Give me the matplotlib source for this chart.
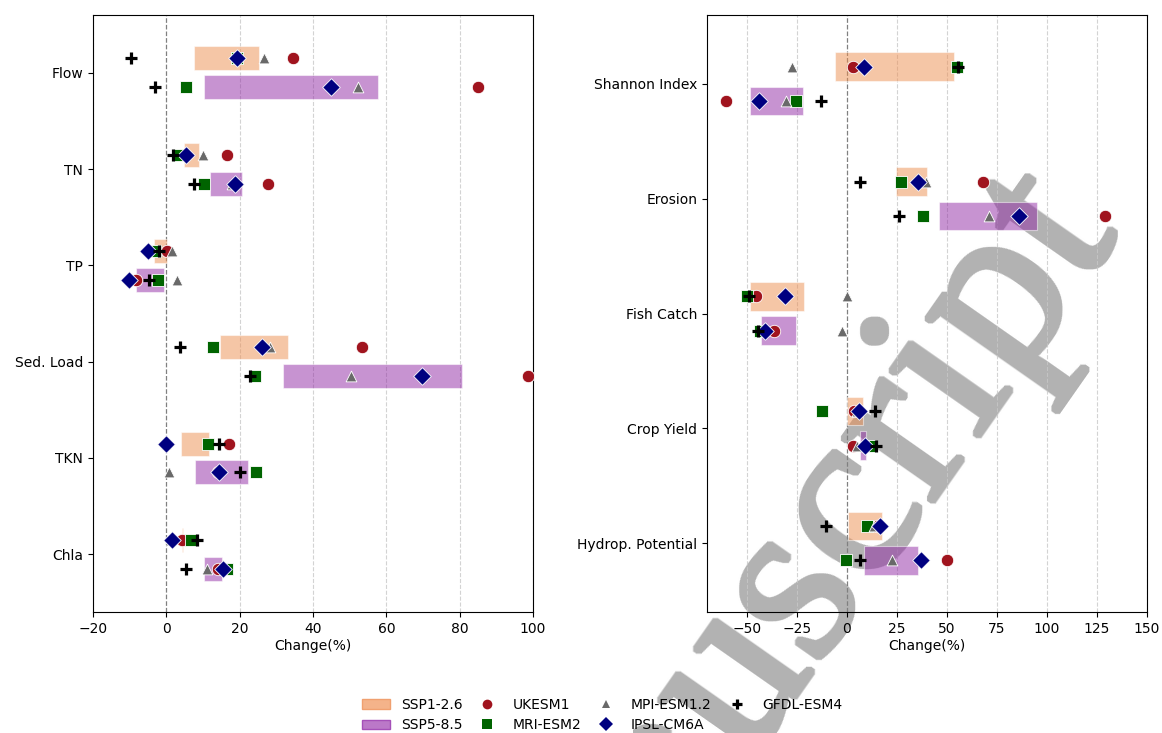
import numpy as np
import matplotlib
matplotlib.use('Agg')
import matplotlib.pyplot as plt
from matplotlib.patches import Patch
from matplotlib.lines import Line2D

models = ['UKESM1', 'MRI-ESM2', 'MPI-ESM1.2', 'IPSL-CM6A', 'GFDL-ESM4']

# left panel - water quantity / quality (% change)
wq_vars = ['Flow', 'TN', 'TP', 'Sed. Load', 'TKN', 'Chla']
wq_126_lo = [7.5, 4.9, -3.3, 14.6, 3.9, 4.2]
wq_126_hi = [25.3, 9.0, 0.3, 33.3, 11.7, 4.6]
wq_585_lo = [10.4, 11.9, -8.3, 31.8, 7.7, 10.4]
wq_585_hi = [57.7, 20.7, -0.6, 80.7, 22.4, 15.3]
wq_126_ukesm = [34.5, 16.5, 0.3, 53.5, 17.2, 4.3]
wq_126_mri = [19.2, 3.5, -3.1, 12.6, 11.3, 6.7]
wq_126_mpi = [26.6, 10.1, 1.6, 28.3, -0.2, 1.0]
wq_126_ipsl = [19.2, 5.5, -5.1, 26.2, -0.2, 1.5]
wq_126_gfdl = [-9.5, 1.7, -1.9, 3.6, 14.5, 8.5]
wq_585_ukesm = [85.1, 27.8, -8.3, 98.5, 14.0, 14.0]
wq_585_mri = [5.5, 10.4, -2.2, 24.2, 24.5, 16.6]
wq_585_mpi = [52.3, 17.8, 2.9, 50.3, 0.6, 11.2]
wq_585_ipsl = [44.8, 18.6, -10.2, 69.8, 14.4, 15.5]
wq_585_gfdl = [-3.1, 7.5, -4.7, 22.8, 20.1, 5.3]

# right panel - ecosystem services (% change)
es_vars = ['Shannon Index', 'Erosion', 'Fish Catch', 'Crop Yield', 'Hydrop. Potential']
es_126_lo = [-5.8, 24.5, -48.5, 0.2, 0.3]
es_126_hi = [53.5, 40.0, -21.5, 8.0, 17.5]
es_585_lo = [-48.3, 46.0, -43.2, 6.5, 8.3]
es_585_hi = [-22.0, 95.2, -25.3, 9.3, 35.3]
es_126_ukesm = [3.0, 67.8, -45.5, 3.5, 14.8]
es_126_mri = [54.9, 26.8, -50.2, -12.3, 10.0]
es_126_mpi = [-27.5, 39.3, 0.2, 5.0, 13.5]
es_126_ipsl = [8.3, 35.5, -31.2, 6.0, 16.7]
es_126_gfdl = [55.7, 6.3, -48.8, 13.8, -10.3]
es_585_ukesm = [-60.7, 129.0, -36.5, 2.8, 50.0]
es_585_mri = [-25.3, 38.2, -43.5, 11.2, -0.7]
es_585_mpi = [-30.7, 71.0, -2.5, 4.8, 22.5]
es_585_ipsl = [-44.2, 85.8, -40.8, 9.0, 36.8]
es_585_gfdl = [-12.8, 26.2, -44.7, 14.3, 6.5]

c126 = '#ed8e4f'
c585 = '#9129a5'
mstyle = {
    'UKESM1': dict(marker='o', color='#a0141e', s=80),
    'MRI-ESM2': dict(marker='s', color='darkgreen', s=70),
    'MPI-ESM1.2': dict(marker='^', color='dimgray', s=60),
    'IPSL-CM6A': dict(marker='D', color='navy', s=80),
    'GFDL-ESM4': dict(marker='+', color='black', s=70),
}


def panel(ax, cats, lo1, hi1, lo5, hi5, pts1, pts5, xlim, xticks):
    y = np.arange(len(cats))
    lo1, hi1, lo5, hi5 = map(np.array, (lo1, hi1, lo5, hi5))
    ax.barh(y - 0.15, hi1 - lo1, left=lo1, height=0.25, color=c126, alpha=0.5,
            edgecolor='white', lw=0.8, zorder=1)
    ax.barh(y + 0.15, hi5 - lo5, left=lo5, height=0.25, color=c585, alpha=0.5,
            edgecolor='white', lw=0.8, zorder=1)
    for m, v1, v5 in zip(models, pts1, pts5):
        st = mstyle[m]
        if st['marker'] == '+':
            kw = dict(linewidths=2.3)
        else:
            kw = dict(edgecolors='white', linewidths=0.6)
        ax.scatter(v1, y - 0.15, zorder=3, **st, **kw)
        ax.scatter(v5, y + 0.15, zorder=3, **st, **kw)
    ax.set_yticks(y)
    ax.set_yticklabels(cats)
    ax.set_ylim(len(cats) - 0.4, -0.6)
    ax.set_xlim(*xlim)
    ax.set_xticks(xticks)
    for t in xticks:
        if t != 0:
            ax.axvline(t, color='#c8c8c8', ls='--', lw=0.8, zorder=0.8, alpha=0.8)
    ax.axvline(0, color='gray', ls='--', lw=0.9, zorder=0.8)
    ax.set_xlabel('Change(%)', fontsize=10, labelpad=2)
    ax.tick_params(labelsize=10)


def solid_gray(im, dpi):
    # close the thin gaps inside the big rotated glyphs (no wrap-around)
    a = im[..., 3]
    r = 2
    h, w = a.shape
    p = np.pad(a, r)
    m = np.zeros_like(a)
    for dy in range(2 * r + 1):
        for dx in range(2 * r + 1):
            m = np.maximum(m, p[dy:dy + h, dx:dx + w])
    out = np.empty_like(im)
    out[..., :3] = 0.70
    out[..., 3] = m
    return out, 0, 0


fig = plt.figure(figsize=(11.62, 7.33), dpi=100)
ax1 = fig.add_axes([0.080, 0.165, 0.3787, 0.8145])
ax2 = fig.add_axes([0.6084, 0.165, 0.3787, 0.8145])

panel(ax1, wq_vars, wq_126_lo, wq_126_hi, wq_585_lo, wq_585_hi,
      [wq_126_ukesm, wq_126_mri, wq_126_mpi, wq_126_ipsl, wq_126_gfdl],
      [wq_585_ukesm, wq_585_mri, wq_585_mpi, wq_585_ipsl, wq_585_gfdl],
      (-20, 100), np.arange(-20, 101, 20))
panel(ax2, es_vars, es_126_lo, es_126_hi, es_585_lo, es_585_hi,
      [es_126_ukesm, es_126_mri, es_126_mpi, es_126_ipsl, es_126_gfdl],
      [es_585_ukesm, es_585_mri, es_585_mpi, es_585_ipsl, es_585_gfdl],
      (-70, 150), np.arange(-50, 151, 25))

handles = [Patch(facecolor='#f4b38a', edgecolor='#f0a070', label='SSP1-2.6'),
           Patch(facecolor='#bb78c8', edgecolor='#a550b8', label='SSP5-8.5')]
for m in models:
    st = mstyle[m]
    mew = 2.3 if st['marker'] == '+' else 0
    handles.append(Line2D([], [], ls='', marker=st['marker'], color=st['color'],
                          markersize=7 if st['marker'] != '^' else 6,
                          markeredgewidth=mew, label=m))
fig.legend(handles=handles, loc='lower center', bbox_to_anchor=(0.518, -0.016),
           ncol=4, frameon=False, fontsize=10, handlelength=2.0,
           columnspacing=0.8, labelspacing=0.45)

# page watermark (under the bars, above the background)
wm = ax2.text(0.962, 0.689, 'Manuscript', transform=fig.transFigure, fontsize=172,
              family='Liberation Serif', color='#b3b3b3', rotation=55,
              rotation_mode='anchor', ha='right', va='baseline', zorder=0.5,
              clip_on=False)
wm.set_agg_filter(solid_gray)

fig.savefig('out.png', dpi=100)
